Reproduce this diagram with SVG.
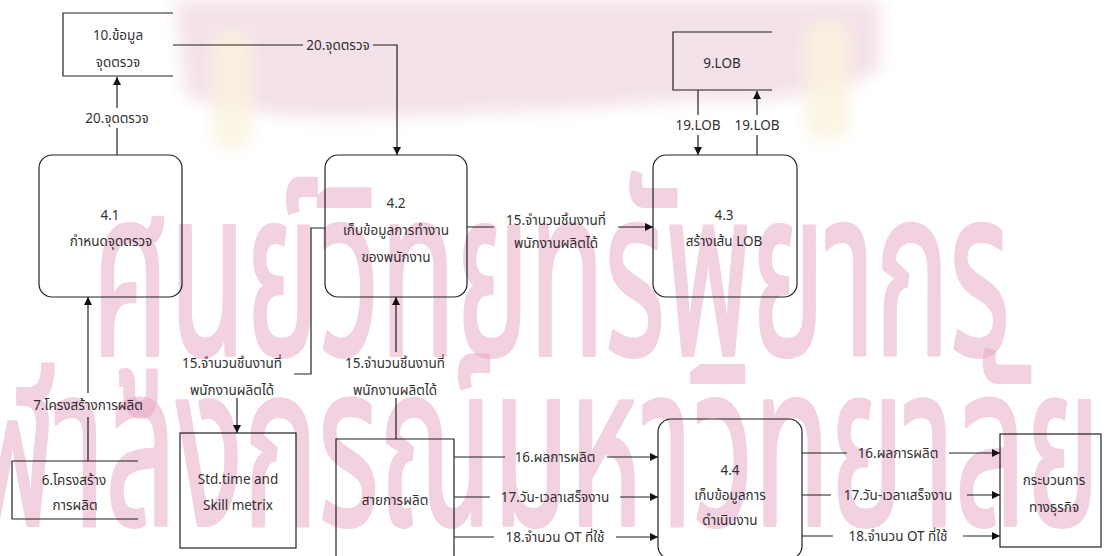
<svg xmlns="http://www.w3.org/2000/svg" width="1104" height="556" viewBox="0 0 1104 556">
  <defs>
    <marker id="arrow" viewBox="0 0 10 10" refX="10" refY="5" markerWidth="9" markerHeight="8" markerUnits="userSpaceOnUse" orient="auto">
      <path d="M0,0 L10,5 L0,10 z" fill="#111"/>
    </marker>
    <filter id="soft" x="-20%" y="-50%" width="140%" height="200%">
      <feGaussianBlur stdDeviation="8"/>
    </filter>
    <style>
      .box { fill: none; stroke: #222; stroke-width: 1.2; }
      .flow { fill: none; stroke: #222; stroke-width: 1.2; }
      .lbl { font-family: "Noto Sans Thai", "Noto Sans", "DejaVu Sans", sans-serif; font-size: 13.5px; fill: #333; text-anchor: middle; }
      .bg { fill: #fff; }
      .wm { font-family: "Noto Sans Thai", "Noto Sans", "DejaVu Sans", sans-serif; font-weight: normal; fill: #e6a3c4; stroke: #e6a3c4; stroke-width: 4; stroke-linejoin: round; opacity: 0.5; }
    </style>
  </defs>

  <rect width="1104" height="556" fill="#fff"/>

  <!-- connectors -->
  <g id="connectors">
    <line class="flow" x1="117" y1="155" x2="117" y2="77" marker-end="url(#arrow)"/>
    <path class="flow" d="M173,45 H397 V155" marker-end="url(#arrow)"/>
    <line class="flow" x1="698" y1="90" x2="698" y2="155" marker-end="url(#arrow)"/>
    <line class="flow" x1="757" y1="155" x2="757" y2="91" marker-end="url(#arrow)"/>
    <line class="flow" x1="467" y1="227" x2="653" y2="227" marker-end="url(#arrow)"/>
    <line class="flow" x1="88" y1="461" x2="88" y2="297" marker-end="url(#arrow)"/>
    <path class="flow" d="M325,228 H311 V374 H237 V433" marker-end="url(#arrow)"/>
    <line class="flow" x1="396" y1="439" x2="396" y2="297" marker-end="url(#arrow)"/>
    <line class="flow" x1="454" y1="457" x2="658" y2="457" marker-end="url(#arrow)"/>
    <line class="flow" x1="454" y1="497" x2="658" y2="497" marker-end="url(#arrow)"/>
    <line class="flow" x1="454" y1="537" x2="658" y2="537" marker-end="url(#arrow)"/>
    <line class="flow" x1="802" y1="453" x2="1000" y2="453" marker-end="url(#arrow)"/>
    <line class="flow" x1="802" y1="495" x2="1000" y2="495" marker-end="url(#arrow)"/>
    <line class="flow" x1="802" y1="536" x2="1000" y2="536" marker-end="url(#arrow)"/>

    <!-- flow labels -->
    <rect class="bg" x="84" y="108" width="66" height="20"/>
    <text class="lbl" x="117" y="123">20.จุดตรวจ</text>
    <rect class="bg" x="303" y="35" width="70" height="20"/>
    <text class="lbl" x="338" y="50">20.จุดตรวจ</text>
    <rect class="bg" x="673" y="115" width="50" height="20"/>
    <text class="lbl" x="698" y="130">19.LOB</text>
    <rect class="bg" x="732" y="115" width="50" height="20"/>
    <text class="lbl" x="757" y="130">19.LOB</text>
    <rect class="bg" x="494" y="207" width="124" height="44"/>
    <text class="lbl" x="556" y="225">15.จำนวนชิ้นงานที่</text>
    <text class="lbl" x="556" y="248">พนักงานผลิตได้</text>
    <rect class="bg" x="26" y="393" width="124" height="24"/>
    <text class="lbl" x="88" y="410">7.โครงสร้างการผลิต</text>
    <rect class="bg" x="170" y="352" width="124" height="46"/>
    <text class="lbl" x="232" y="368">15.จำนวนชิ้นงานที่</text>
    <text class="lbl" x="232" y="395">พนักงานผลิตได้</text>
    <rect class="bg" x="336" y="352" width="120" height="46"/>
    <text class="lbl" x="395" y="368">15.จำนวนชิ้นงานที่</text>
    <text class="lbl" x="395" y="395">พนักงานผลิตได้</text>
    <rect class="bg" x="505" y="447" width="102" height="20"/>
    <text class="lbl" x="555" y="462">16.ผลการผลิต</text>
    <rect class="bg" x="490" y="487" width="130" height="20"/>
    <text class="lbl" x="555" y="502">17.วัน-เวลาเสร็จงาน</text>
    <rect class="bg" x="494" y="527" width="122" height="20"/>
    <text class="lbl" x="555" y="542">18.จำนวน OT ที่ใช้</text>
    <rect class="bg" x="847" y="443" width="102" height="20"/>
    <text class="lbl" x="898" y="458">16.ผลการผลิต</text>
    <rect class="bg" x="831" y="485" width="136" height="20"/>
    <text class="lbl" x="898" y="500">17.วัน-เวลาเสร็จงาน</text>
    <rect class="bg" x="833" y="526" width="130" height="20"/>
    <text class="lbl" x="898" y="541">18.จำนวน OT ที่ใช้</text>
  </g>

  <!-- data stores -->
  <g id="store-10">
    <path class="box" d="M173,13 H63 V76 H173"/>
    <text class="lbl" x="118" y="40">10.ข้อมูล</text>
    <text class="lbl" x="118" y="67">จุดตรวจ</text>
  </g>
  <g id="store-9">
    <path class="box" d="M772,32 H673 V90 H772"/>
    <text class="lbl" x="722" y="68">9.LOB</text>
  </g>
  <g id="store-6">
    <path class="box" d="M138,461 H12 V519 H138"/>
    <text class="lbl" x="74" y="485">6.โครงสร้าง</text>
    <text class="lbl" x="75" y="510">การผลิต</text>
  </g>

  <!-- external entities -->
  <g id="std-time">
    <rect class="box" x="180" y="433" width="116" height="115"/>
    <text class="lbl" x="238" y="484">Std.time and</text>
    <text class="lbl" x="238" y="510">Skill metrix</text>
  </g>
  <g id="production-line">
    <path class="box" d="M336,562 V439 H454 V562"/>
    <text class="lbl" x="395" y="505">สายการผลิต</text>
  </g>
  <g id="business-process">
    <rect class="box" x="1000" y="434" width="101" height="113"/>
    <text class="lbl" x="1054" y="485">กระบวนการ</text>
    <text class="lbl" x="1054" y="512">ทางธุรกิจ</text>
  </g>

  <!-- processes -->
  <g id="p4-1">
    <rect class="box" x="39" y="155" width="143" height="142" rx="13"/>
    <text class="lbl" x="110" y="220">4.1</text>
    <text class="lbl" x="111" y="246">กำหนดจุดตรวจ</text>
  </g>
  <g id="p4-2">
    <rect class="box" x="325" y="155" width="142" height="142" rx="13"/>
    <text class="lbl" x="396" y="208">4.2</text>
    <text class="lbl" x="396" y="235">เก็บข้อมูลการทำงาน</text>
    <text class="lbl" x="396" y="262">ของพนักงาน</text>
  </g>
  <g id="p4-3">
    <rect class="box" x="653" y="155" width="144" height="142" rx="13"/>
    <text class="lbl" x="724" y="220">4.3</text>
    <text class="lbl" x="724" y="246">สร้างเส้น LOB</text>
  </g>
  <g id="p4-4">
    <rect class="box" x="658" y="419" width="144" height="140" rx="13"/>
    <text class="lbl" x="730" y="475">4.4</text>
    <text class="lbl" x="730" y="500">เก็บข้อมูลการ</text>
    <text class="lbl" x="730" y="525">ดำเนินงาน</text>
  </g>

  <!-- library watermark: emblem wash and two lines of lettering -->
  <g id="watermark" style="mix-blend-mode: multiply">
    <path d="M175,0 H880 V70 Q820,105 700,100 Q520,115 330,118 Q230,115 185,95 Z" fill="#f3dfe8" opacity="0.9" filter="url(#soft)"/>
    <rect x="212" y="30" width="40" height="120" rx="18" fill="#fbf3dd" opacity="0.8" filter="url(#soft)"/>
    <rect x="805" y="20" width="45" height="120" rx="18" fill="#fbf3dd" opacity="0.8" filter="url(#soft)"/>
    <text class="wm" x="92" y="355" font-size="235" textLength="918" lengthAdjust="spacingAndGlyphs">ศูนย์วิทยทรัพยากร</text>
    <text class="wm" x="-95" y="525" font-size="225" textLength="1195" lengthAdjust="spacingAndGlyphs">จุฬาลงกรณ์มหาวิทยาลัย</text>
  </g>
</svg>
